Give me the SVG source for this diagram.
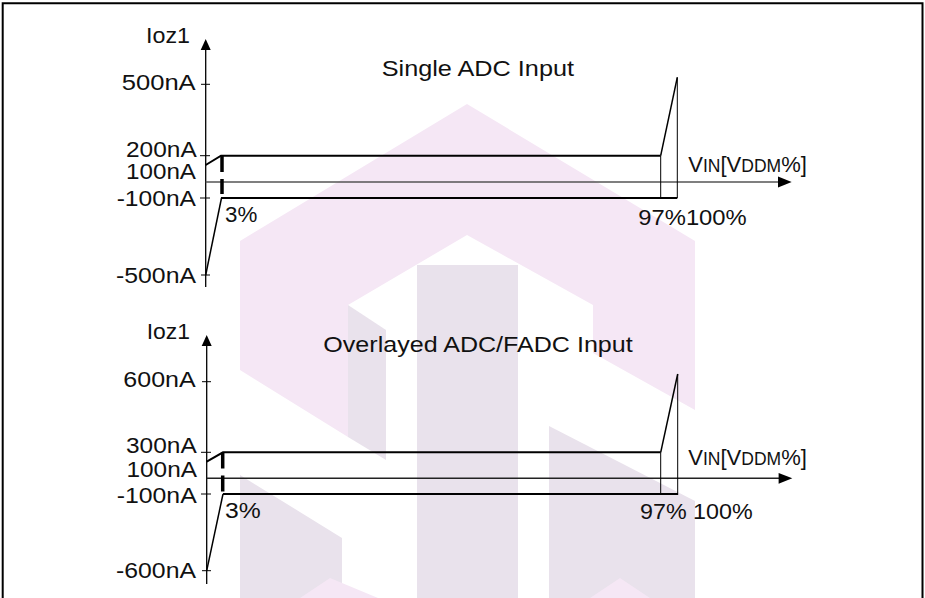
<svg xmlns="http://www.w3.org/2000/svg" width="925" height="598" viewBox="0 0 925 598">
<style>
text{font-family:"Liberation Sans",Arial,sans-serif;font-size:22px;fill:#111}
.ax{stroke:#000;stroke-width:1.3;fill:none}
.xa{stroke:#555;stroke-width:1.4;fill:none}
.thick{stroke:#000;stroke-width:2;fill:none}
.thin{stroke:#000;stroke-width:1;fill:none}
.ramp{stroke:#000;stroke-width:1.5;fill:none}
.dash{stroke:#000;stroke-width:3.5;stroke-dasharray:16 7;fill:none}
.tick{stroke:#000;stroke-width:1;fill:none}
.pk{fill:#f5e7f5}
.lv{fill:#e9e2ec}
</style>
<rect width="925" height="598" fill="#fff"/>
<g id="watermark">
<polygon class="pk" points="467,104 695,241 695,410 593,353 593,305 467,235 348,305 348,437 240,370 240,241"/>
<polygon class="lv" points="348,305 386,330 386,460 348,437"/>
<polygon class="lv" points="417,265 518,265 518,598 417,598"/>
<polygon class="lv" points="549,426 695,501 695,598 549,598"/>
<polygon class="lv" points="240,475 342,538 342,598 240,598"/>
<polygon class="pk" points="300,598 330,578 378,598"/>
<polygon class="pk" points="590,598 620,578 650,598"/>
</g>
<path d="M2.7,600 V3.3 H922.5 V600" fill="none" stroke="#000" stroke-width="2"/>
<g id="chart1">
<g id="axes1">
<line class="ax" x1="205.7" y1="49" x2="205.7" y2="287"/>
<polygon points="205.7,39 200.7,50 210.7,50" fill="#000"/>
<line class="xa" x1="205.7" y1="182" x2="780" y2="182"/>
<polygon points="791.7,182 778,176.6 778,187.4" fill="#000"/>
<path class="tick" d="M201,84.3H210M200,155.7H210M200,198H210M201,275H210"/>
</g>
<g id="curve1">
<polyline class="thick" points="205.7,165 221,155.7 660.7,155.7"/>
<line class="ramp" x1="660.7" y1="155.7" x2="677.3" y2="77.3"/>
<line class="thin" x1="677.3" y1="77.3" x2="677.3" y2="198"/>
<line class="thin" x1="660.7" y1="155.7" x2="660.7" y2="198"/>
<line class="thick" x1="221" y1="198" x2="677.3" y2="198"/>
<line class="ramp" x1="205.7" y1="275" x2="221.5" y2="198"/>
<line class="dash" x1="222" y1="156" x2="222" y2="194"/>
</g>
<g id="labels1">
<text x="146" y="43" textLength="44" lengthAdjust="spacingAndGlyphs">Ioz1</text>
<text x="381.7" y="76" textLength="192.3" lengthAdjust="spacingAndGlyphs">Single ADC Input</text>
<text x="121.7" y="90" textLength="74" lengthAdjust="spacingAndGlyphs">500nA</text>
<text x="126" y="156.5" textLength="70.7" lengthAdjust="spacingAndGlyphs">200nA</text>
<text x="126" y="179" textLength="70" lengthAdjust="spacingAndGlyphs">100nA</text>
<text x="116.7" y="205.7" textLength="79.3" lengthAdjust="spacingAndGlyphs">-100nA</text>
<text x="116" y="282.7" textLength="80" lengthAdjust="spacingAndGlyphs">-500nA</text>
<text x="225" y="221.7" textLength="32.3" lengthAdjust="spacingAndGlyphs">3%</text>
<text x="638.3" y="225" textLength="108.4" lengthAdjust="spacingAndGlyphs">97%100%</text>
<text x="688.3" y="172" font-size="24">V<tspan font-size="17.5">IN</tspan>[V<tspan font-size="17.5">DDM</tspan>%]</text>
</g>
</g>
<g id="chart2">
<g id="axes2">
<line class="ax" x1="206.7" y1="344" x2="206.7" y2="584"/>
<polygon points="206.7,335 201.7,346 211.7,346" fill="#000"/>
<line class="xa" x1="206.7" y1="478.3" x2="780" y2="478.3" style="stroke:#222"/>
<polygon points="792.3,478.3 778.6,472.9 778.6,483.7" fill="#000"/>
<path class="tick" d="M202,381.7H211M201,452.3H211M201,494H211M202,570.7H211"/>
</g>
<g id="curve2">
<polyline class="thick" points="206.7,461.7 223,452.3 660.7,452.3"/>
<line class="ramp" x1="660.7" y1="452.3" x2="677.7" y2="374"/>
<line class="thin" x1="677.7" y1="374" x2="677.7" y2="495"/>
<line class="thin" x1="660.7" y1="452.3" x2="660.7" y2="495"/>
<line class="thick" x1="223" y1="494" x2="678" y2="494"/>
<line class="ramp" x1="206.7" y1="570.7" x2="223" y2="494"/>
<line class="dash" x1="222.7" y1="452.5" x2="222.7" y2="492"/>
</g>
<g id="labels2">
<text x="146.7" y="339.3" textLength="43.3" lengthAdjust="spacingAndGlyphs">Ioz1</text>
<text x="323.3" y="351.7" textLength="309.4" lengthAdjust="spacingAndGlyphs">Overlayed ADC/FADC Input</text>
<text x="123.3" y="386.7" textLength="72.4" lengthAdjust="spacingAndGlyphs">600nA</text>
<text x="126" y="452.5" textLength="70.7" lengthAdjust="spacingAndGlyphs">300nA</text>
<text x="126.5" y="476.7" textLength="70.5" lengthAdjust="spacingAndGlyphs">100nA</text>
<text x="116.7" y="503.3" textLength="80" lengthAdjust="spacingAndGlyphs">-100nA</text>
<text x="116" y="578.3" textLength="80" lengthAdjust="spacingAndGlyphs">-600nA</text>
<text x="225" y="517.7" textLength="35.7" lengthAdjust="spacingAndGlyphs">3%</text>
<text x="640" y="519.3" textLength="112.7" lengthAdjust="spacingAndGlyphs">97% 100%</text>
<text x="688.3" y="465" font-size="24">V<tspan font-size="17.5">IN</tspan>[V<tspan font-size="17.5">DDM</tspan>%]</text>
</g>
</g>
</svg>
